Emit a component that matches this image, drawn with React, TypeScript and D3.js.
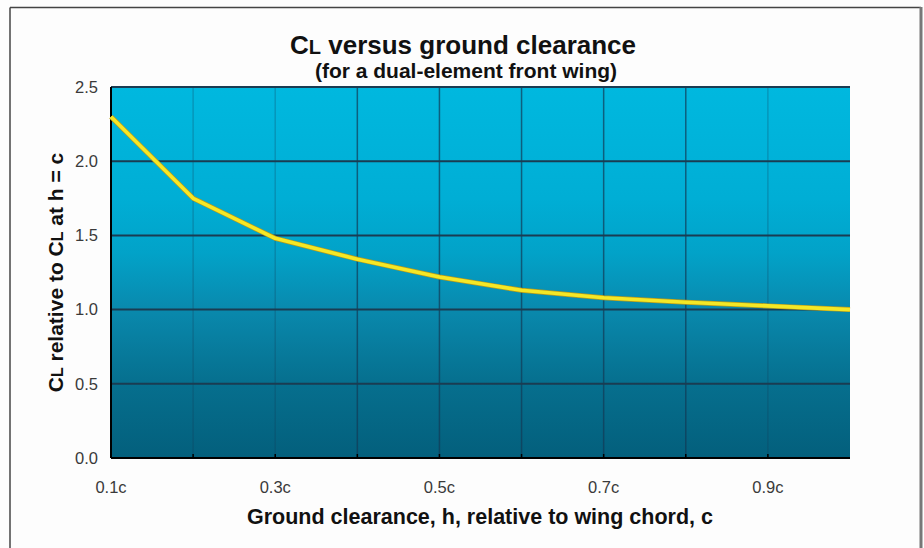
import React from "react";
import * as d3 from "d3";

const clearance = [0.1, 0.2, 0.3, 0.4, 0.5, 0.6, 0.7, 0.8, 0.9, 1.0];
const clRatio = [2.3, 1.75, 1.48, 1.34, 1.22, 1.13, 1.08, 1.05, 1.025, 1.0];
const xTickValues = [0.1, 0.3, 0.5, 0.7, 0.9];
const xGridValues = [0.2, 0.3, 0.4, 0.5, 0.6, 0.7, 0.8, 0.9];
const yTickValues = [0, 0.5, 1.0, 1.5, 2.0, 2.5];
const faintX = [0.2, 0.3, 0.9];

const W = 924;
const H = 548;
const M = { left: 111, right: 850, top: 87, bottom: 458 };

export default function App() {
  const x = d3.scaleLinear().domain([0.1, 1.0]).range([M.left, M.right]);
  const y = d3.scaleLinear().domain([0, 2.5]).range([M.bottom, M.top]);
  const pts: [number, number][] = clearance.map((c, i) => [c, clRatio[i]]);
  const line = d3
    .line<[number, number]>()
    .x((d) => x(d[0]))
    .y((d) => y(d[1]))
    .curve(d3.curveLinear);
  const font = "'Liberation Sans', Arial, Helvetica, sans-serif";
  return (
    <svg
      width={W}
      height={H}
      style={{ position: "absolute", left: 0, top: 0, background: "#fdfdfd" }}
      fontFamily={font}
    >
      <defs>
        <linearGradient id="bg" x1="0" y1="0" x2="0" y2="1">
          <stop offset="0%" stopColor="#00b8df" />
          <stop offset="30%" stopColor="#00aed5" />
          <stop offset="45%" stopColor="#02a2c8" />
          <stop offset="60%" stopColor="#0989ad" />
          <stop offset="80%" stopColor="#066f8e" />
          <stop offset="100%" stopColor="#035f7c" />
        </linearGradient>
      </defs>
      {/* outer frame */}
      <line x1={10} y1={7.5} x2={921} y2={7.5} stroke="#444" strokeWidth={1.5} />
      <line x1={10} y1={7.5} x2={10} y2={H} stroke="#444" strokeWidth={1.5} />
      <line x1={921} y1={7} x2={921} y2={H} stroke="#777" strokeWidth={3} />

      {/* title */}
      <text x={463} y={54} textAnchor="middle" fontSize={26} fontWeight="bold" fill="#111">
        C<tspan fontSize={20}>L</tspan> versus ground clearance
      </text>
      <text x={466} y={78} textAnchor="middle" fontSize={21} fontWeight="bold" fill="#111">
        (for a dual-element front wing)
      </text>

      {/* plot background */}
      <rect
        x={M.left}
        y={M.top}
        width={M.right - M.left}
        height={M.bottom - M.top}
        fill="url(#bg)"
      />
      {/* vertical grid */}
      {xGridValues.map((v) => (
        <line
          key={"vx" + v}
          x1={x(v)}
          x2={x(v)}
          y1={M.top}
          y2={M.bottom}
          stroke="#123a55"
          strokeOpacity={faintX.includes(v) ? 0.25 : 0.7}
          strokeWidth={1.5}
        />
      ))}
      {/* horizontal grid */}
      {yTickValues
        .filter((v) => v > 0)
        .map((v) => (
          <line
            key={"hy" + v}
            x1={M.left}
            x2={M.right}
            y1={y(v)}
            y2={y(v)}
            stroke="#1a3c52"
            strokeWidth={2}
          />
        ))}
      {/* ticks at bottom */}
      {xGridValues.map((v) => (
        <line
          key={"tk" + v}
          x1={x(v)}
          x2={x(v)}
          y1={M.bottom}
          y2={M.bottom - 4}
          stroke="#000"
          strokeWidth={1.5}
        />
      ))}
      {/* axes */}
      <line x1={M.left} x2={M.right} y1={M.bottom} y2={M.bottom} stroke="#000" strokeWidth={2} />
      <line x1={M.left} x2={M.left} y1={M.top} y2={M.bottom} stroke="#000" strokeWidth={2} />

      {/* data line */}
      <path d={line(pts) || ""} fill="none" stroke="#b89a1a" strokeWidth={5} strokeLinejoin="round" />
      <path d={line(pts) || ""} fill="none" stroke="#f4e826" strokeWidth={3.6} strokeLinejoin="round" />

      {/* y tick labels */}
      {yTickValues.map((v) => (
        <text
          key={"yl" + v}
          x={98}
          y={y(v)}
          dy="0.35em"
          textAnchor="end"
          fontSize={16.5}
          fill="#3a3a3a"
        >
          {v.toFixed(1)}
        </text>
      ))}
      {/* x tick labels */}
      {xTickValues.map((v) => (
        <text
          key={"xl" + v}
          x={x(v)}
          y={493}
          textAnchor="middle"
          fontSize={16.5}
          fill="#3a3a3a"
        >
          {v.toFixed(1) + "c"}
        </text>
      ))}

      {/* axis titles */}
      <text x={480} y={524} textAnchor="middle" fontSize={21.5} fontWeight="bold" fill="#111">
        Ground clearance, h, relative to wing chord, c
      </text>
      <text
        transform={`translate(63, ${(M.top + M.bottom) / 2}) rotate(-90)`}
        textAnchor="middle"
        fontSize={21}
        fontWeight="bold"
        fill="#111"
      >
        C<tspan fontSize={16}>L</tspan> relative to C<tspan fontSize={16}>L</tspan> at h = c
      </text>
    </svg>
  );
}
